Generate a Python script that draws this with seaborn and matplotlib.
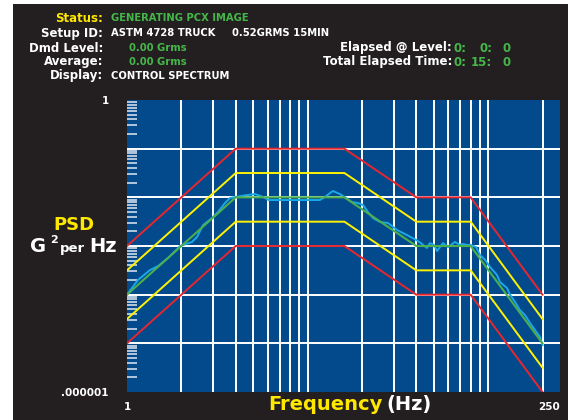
import numpy as np
import pandas as pd
import seaborn as sns
import matplotlib.pyplot as plt
from matplotlib.patches import Rectangle
from matplotlib.ticker import LogLocator, NullLocator

# ASTM D4728 truck profile and its alarm / abort limits
profile_freq = [1, 4, 16, 40, 80, 200]
profile_psd = [1e-4, 1e-2, 1e-2, 1e-3, 1e-3, 1e-5]
upper_abort = [1e-3, 1e-1, 1e-1, 1e-2, 1e-2, 1e-4]
upper_alarm = [3.16e-4, 3.16e-2, 3.16e-2, 3.16e-3, 3.16e-3, 3.16e-5]
lower_alarm = [3.16e-5, 3.16e-3, 3.16e-3, 3.16e-4, 3.16e-4, 3.16e-6]
lower_abort = [1e-5, 1e-3, 1e-3, 1e-4, 1e-4, 1e-6]

control_freq = [1.0, 1.15, 1.34, 1.49, 1.69, 1.97, 2.29, 2.44, 2.64, 2.96,
                3.19, 3.49, 3.72, 4.0, 4.68, 5.12, 5.66, 6.11, 8.0, 11.7,
                12.5, 13.8, 15.1, 16.0, 17.6, 19.0, 20.3, 21.6, 23.0, 25.2,
                27.9, 31.3, 35.5, 40.0, 43.0, 45.8, 47.6, 50.1, 52.1, 54.1,
                56.2, 59.9, 65.5, 69.8, 72.6, 76.4, 80.0, 85.7, 90.2, 96.1,
                102.4, 111.9, 116.3, 127.2, 132.1, 140.9, 150.1, 160.0, 170.6, 181.7,
                193.7, 200.0]
control_psd = [1.0e-4, 2.0e-4, 3.2e-4, 3.9e-4, 5.7e-4, 1.0e-3, 1.21e-3, 1.53e-3, 2.7e-3, 3.77e-3,
               5.0e-3, 7.65e-3, 9.7e-3, 1.02e-2, 1.12e-2, 1.17e-2, 1.02e-2, 8.8e-3, 8.8e-3, 8.8e-3,
               1.02e-2, 1.35e-2, 1.17e-2, 1.02e-2, 8.0e-3, 7.65e-3, 6.96e-3, 5.0e-3, 3.77e-3, 3.11e-3,
               2.97e-3, 2.13e-3, 1.68e-3, 1.33e-3, 1.10e-3, 9.1e-4, 1.15e-3, 1.05e-3, 7.9e-4, 9.5e-4,
               1.15e-3, 9.5e-4, 1.21e-3, 1.05e-3, 1.10e-3, 1.05e-3, 1.05e-3, 9.5e-4, 6.5e-4, 5.2e-4,
               3.7e-4, 2.54e-4, 1.82e-4, 1.37e-4, 1.0e-4, 7.1e-5, 4.8e-5, 3.8e-5, 2.62e-5, 1.88e-5,
               1.35e-5, 9.2e-6]

grid_freq = [2, 3, 4, 5, 6, 7, 8, 9, 10, 20, 30, 40, 50, 60, 70, 80, 90, 100, 200]
grid_psd = [1e-5, 1e-4, 1e-3, 1e-2, 1e-1]
y_ticks = [1e-6, 1e-5, 1e-4, 1e-3, 1e-2, 1e-1, 1]
y_labels = ['.000001', '', '', '', '', '', '1']

W, H = 568, 420
BG = '#231f20'
PLOT_BG = '#034a8c'
RED = '#e8262d'
YELLOW = '#fff200'
GREEN = '#4cae4c'
CYAN = '#1aa8e8'
TXT_GREEN = '#45b649'
TXT_YELLOW = '#ffe800'
FONT = 'DejaVu Sans'


def fx(x):
    return x / W


def fy(y):
    return 1 - y / H


fig = plt.figure(figsize=(W / 100, H / 100), dpi=100, facecolor='white')
fig.patches.append(Rectangle((fx(13), 0), 1 - fx(13), fy(4), transform=fig.transFigure,
                             facecolor=BG, edgecolor='none', zorder=-5))

ax = fig.add_axes([fx(127), fy(392), (560 - 127) / W, (392 - 100) / H])
ax.set_facecolor(PLOT_BG)
ax.set_xscale('log')
ax.set_yscale('log')

for f in grid_freq:
    ax.axvline(f, color='white', lw=1.4, zorder=1)
for p in grid_psd:
    ax.axhline(p, color='white', lw=1.4, zorder=1)

limits = [(upper_abort, RED), (lower_abort, RED), (upper_alarm, YELLOW), (lower_alarm, YELLOW)]
for vals, col in limits:
    sns.lineplot(x=profile_freq, y=vals, ax=ax, color=col, lw=1.4,
                 estimator=None, sort=False, zorder=3)
sns.lineplot(x=control_freq, y=control_psd, ax=ax, color=CYAN, lw=1.4,
             estimator=None, sort=False, zorder=4)
sns.lineplot(x=profile_freq, y=profile_psd, ax=ax, color=GREEN, lw=1.5,
             estimator=None, sort=False, zorder=5)

ax.set_xlim(1, 250)
ax.set_ylim(1e-6, 1)
for s in ax.spines.values():
    s.set_visible(False)

ax.set_xticks([1, 250], ['1', '250'])
ax.xaxis.set_minor_locator(NullLocator())
ax.set_yticks(y_ticks, y_labels)
ax.yaxis.set_minor_locator(LogLocator(base=10, subs=range(2, 10)))
ax.tick_params(which='major', length=0)
ax.tick_params(axis='x', which='major', pad=7, labelsize=7.5, labelcolor='white')
ax.tick_params(axis='y', which='major', pad=13, labelsize=7.5, labelcolor='white')
ax.tick_params(axis='y', which='minor', direction='in', length=7, width=1.2, color='#d0dcea')
for lab in ax.get_xticklabels() + ax.get_yticklabels():
    lab.set_fontweight('bold')
    lab.set_family(FONT)
ax.get_xticklabels()[1].set_horizontalalignment('right')
ax.set_xlabel('')
ax.set_ylabel('')

# header block
labels = [('Status:', 18, TXT_YELLOW), ('Setup ID:', 33, 'white'), ('Dmd Level:', 48, 'white'),
          ('Average:', 62, 'white'), ('Display:', 76, 'white')]
for txt, y, col in labels:
    fig.text(fx(103), fy(y), txt, ha='right', va='center', color=col,
             fontsize=8.5, fontweight='bold', family=FONT)

values = [('GENERATING PCX IMAGE', 111, 18, TXT_GREEN), ('ASTM 4728 TRUCK', 111, 33, 'white'),
          ('0.52GRMS 15MIN', 232, 33, 'white'), ('0.00 Grms', 129, 48, TXT_GREEN),
          ('0.00 Grms', 129, 62, TXT_GREEN), ('CONTROL SPECTRUM', 111, 76, 'white')]
for txt, x, y, col in values:
    fig.text(fx(x), fy(y), txt, ha='left', va='center', color=col,
             fontsize=7.2, fontweight='bold', family=FONT)

for txt, y in [('Elapsed @ Level:', 48), ('Total Elapsed Time:', 62)]:
    fig.text(fx(452), fy(y), txt, ha='right', va='center', color='white',
             fontsize=8.5, fontweight='bold', family=FONT)
for row, y in [(['0:', '0:', '0'], 48), (['0:', '15:', '0'], 62)]:
    for txt, x in zip(row, [467, 492, 511]):
        fig.text(fx(x), fy(y), txt, ha='right', va='center', color=TXT_GREEN,
                 fontsize=8.5, fontweight='bold', family=FONT)

# axis titles
fig.text(fx(74), fy(225), 'PSD', ha='center', va='center', color=TXT_YELLOW,
         fontsize=13, fontweight='bold', family=FONT)
fig.text(fx(30), fy(252), 'G', ha='left', va='baseline', color='white',
         fontsize=14, fontweight='bold', family=FONT)
fig.text(fx(50), fy(243), '2', ha='left', va='baseline', color='white',
         fontsize=8, fontweight='bold', family=FONT)
fig.text(fx(60), fy(252), 'per', ha='left', va='baseline', color='white',
         fontsize=9.5, fontweight='bold', family=FONT)
fig.text(fx(117), fy(252), 'Hz', ha='right', va='baseline', color='white',
         fontsize=14, fontweight='bold', family=FONT)

fig.text(fx(268), fy(410), 'Frequency', ha='left', va='baseline', color=TXT_YELLOW,
         fontsize=14, fontweight='bold', family=FONT)
fig.text(fx(432), fy(410), '(Hz)', ha='right', va='baseline', color='white',
         fontsize=14, fontweight='bold', family=FONT)

fig.savefig('out.png', dpi=100, facecolor=fig.get_facecolor())
